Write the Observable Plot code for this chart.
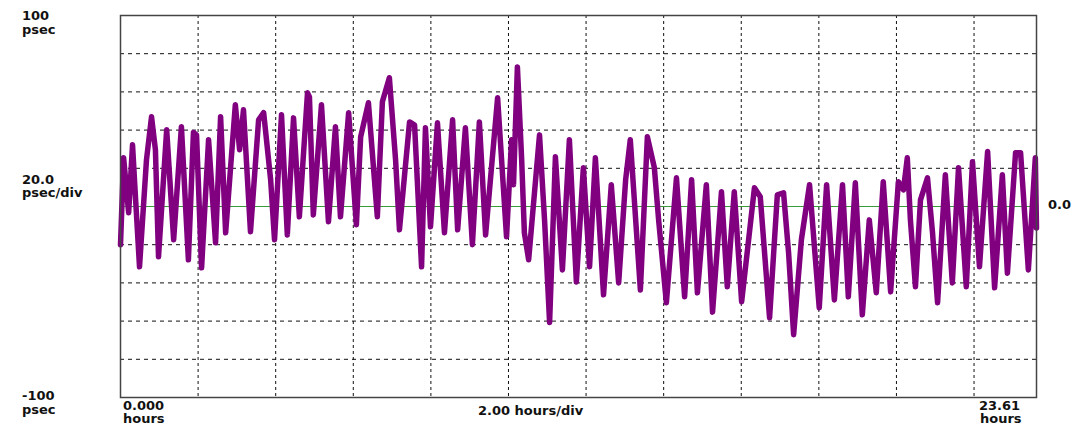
<!DOCTYPE html>
<html><head><meta charset="utf-8">
<script src="https://cdn.jsdelivr.net/npm/d3@7"></script>
<script src="https://cdn.jsdelivr.net/npm/@observablehq/plot@0.6"></script>
<style>
html,body{margin:0;padding:0;background:#fff;}
#chart{position:relative;width:1089px;height:425px;}
</style></head><body><div id="chart"></div>
<script>
const hours = [0.00,0.08,0.21,0.31,0.39,0.49,0.67,0.80,0.90,0.98,1.19,1.37,1.57,1.75,1.88,1.96,2.09,2.27,2.45,2.58,2.71,2.96,3.07,3.17,3.35,3.56,3.69,3.87,3.97,4.15,4.30,4.46,4.61,4.82,4.87,4.97,5.18,5.36,5.54,5.67,5.88,6.08,6.19,6.39,6.62,6.75,6.93,7.09,7.19,7.45,7.58,7.76,7.86,7.99,8.17,8.35,8.56,8.69,8.89,9.07,9.25,9.41,9.72,9.95,10.08,10.13,10.23,10.34,10.41,10.52,10.80,10.93,11.06,11.21,11.39,11.57,11.75,11.93,12.09,12.24,12.45,12.65,12.84,13.02,13.14,13.40,13.58,13.76,13.87,14.07,14.33,14.54,14.72,14.87,15.10,15.26,15.49,15.64,15.82,16.01,16.34,16.49,16.73,16.93,17.09,17.22,17.35,17.55,17.76,18.01,18.20,18.40,18.61,18.76,18.94,19.12,19.30,19.48,19.66,19.85,20.05,20.18,20.28,20.36,20.49,20.62,20.80,20.93,21.06,21.26,21.44,21.60,21.80,21.96,22.14,22.35,22.53,22.73,22.86,23.07,23.20,23.40,23.58,23.61];
const psec = [-20.0,25.5,-3.3,32.3,3.5,-31.6,24.5,47.0,29.7,-26.3,40.2,-17.4,41.8,-27.9,38.7,37.5,-32.1,35.0,-19.0,47.0,-13.8,53.3,29.7,50.6,-13.2,45.4,49.1,14.0,-17.4,48.0,-14.9,46.4,-5.4,59.5,57.4,-4.4,53.3,-8.0,41.8,-5.4,49.1,-9.6,36.5,54.3,-5.4,54.8,67.4,24.5,-12.2,44.3,42.6,-31.6,41.2,-10.6,43.8,-13.8,45.4,-12.2,41.2,-20.0,44.3,-14.9,56.9,-15.9,35.0,11.4,73.1,24.5,-13.8,-27.9,37.5,-7.0,-60.7,26.0,-33.2,35.0,-39.5,20.3,-31.6,25.5,-46.2,11.4,-40.0,14.0,35.0,-43.7,36.5,20.3,-7.0,-50.4,15.0,-47.3,14.0,-45.2,11.4,-55.3,7.7,-42.0,7.7,-49.9,9.8,5.1,-58.3,6.1,7.2,-24.2,-67.1,-17.4,11.4,-53.0,11.4,-48.9,11.4,-47.3,12.4,-56.7,-7.0,-45.2,13.0,-44.7,13.0,8.7,25.5,-7.0,-42.0,3.5,15.0,-13.8,-50.4,16.6,-40.0,20.3,-42.0,23.4,-31.6,28.8,-42.6,16.6,-34.9,28.1,28.1,-33.2,25.5,-11.2];
const xGrid = [2,4,6,8,10,12,14,16,18,20,22];
const yGrid = [-80,-60,-40,-20,20,40,60,80];
const xDomain = [0, 23.61];
const yDomain = [-100, 100];

const data = hours.map((h, i) => ({h, v: psec[i]}));

const plot = Plot.plot({
  width: 1089, height: 425,
  marginLeft: 120, marginRight: 53, marginTop: 15, marginBottom: 28,
  x: {domain: xDomain, axis: null},
  y: {domain: yDomain, axis: null},
  style: {background: "#fff"},
  marks: [
    Plot.ruleY(yGrid, {stroke: "#111", strokeDasharray: "4,4", strokeWidth: 1}),
    Plot.ruleX(xGrid, {stroke: "#111", strokeDasharray: "3,3", strokeWidth: 1}),
    Plot.ruleY([0], {stroke: "#3a9a3a", strokeWidth: 1}),
    Plot.line(data, {x: "h", y: "v", stroke: "#800080", strokeWidth: 5.5, strokeLinejoin: "round"}),
    Plot.frame({stroke: "#444", strokeWidth: 1.5})
  ]
});
document.getElementById("chart").appendChild(plot);

const labels = [
  {t: "100", x: 22, y: 20},
  {t: "psec", x: 22, y: 34},
  {t: "20.0", x: 22, y: 184},
  {t: "psec/div", x: 22, y: 197},
  {t: "-100", x: 22, y: 400},
  {t: "psec", x: 22, y: 414},
  {t: "0.000", x: 123, y: 410},
  {t: "hours", x: 123, y: 423},
  {t: "2.00 hours/div", x: 478, y: 415},
  {t: "23.61", x: 979, y: 410},
  {t: "hours", x: 980, y: 423},
  {t: "0.0", x: 1048, y: 209}
];
d3.select(plot).selectAll("text.lbl").data(labels).join("text")
  .attr("class", "lbl")
  .attr("x", d => d.x).attr("y", d => d.y)
  .attr("text-anchor", "start")
  .attr("font-family", "DejaVu Sans, sans-serif")
  .attr("font-weight", "bold")
  .attr("font-size", 13)
  .attr("fill", "#111")
  .text(d => d.t);
</script></body></html>
